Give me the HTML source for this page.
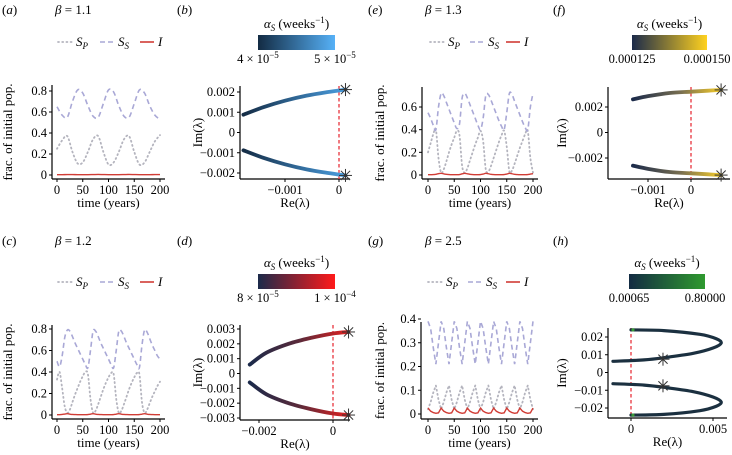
<!DOCTYPE html>
<html><head><meta charset="utf-8">
<style>
html,body{margin:0;padding:0;background:#fff;}
svg{display:block;font-family:"Liberation Serif",serif;}
</style></head>
<body>
<svg id="fig" width="732" height="455" viewBox="0 0 732 455" xmlns="http://www.w3.org/2000/svg">
<defs>
<linearGradient id="cbB" x1="0" x2="1" y1="0" y2="0"><stop offset="0" stop-color="#132b43"/><stop offset="1" stop-color="#56b1f7"/></linearGradient>
<linearGradient id="cbD" x1="0" x2="1" y1="0" y2="0"><stop offset="0" stop-color="#1b2a4a"/><stop offset="1" stop-color="#ff1a1a"/></linearGradient>
<linearGradient id="cbF" x1="0" x2="1" y1="0" y2="0"><stop offset="0" stop-color="#1b2a4a"/><stop offset="1" stop-color="#ffd21f"/></linearGradient>
<linearGradient id="cbH" x1="0" x2="1" y1="0" y2="0"><stop offset="0" stop-color="#132b43"/><stop offset="1" stop-color="#2f9a2f"/></linearGradient>
</defs>
</svg>
<script>
// ---- time-series data (5 or 10 year samples) ----
const tA = [0,10,20,30,40,50,60,70,80,90,100,110,120,130,140,150,160,170,180,190,200];
const ssA = [0.65,0.57,0.55,0.70,0.81,0.78,0.66,0.56,0.55,0.68,0.81,0.79,0.66,0.56,0.55,0.68,0.81,0.78,0.66,0.57,0.53];
const spA = [0.25,0.33,0.37,0.22,0.11,0.12,0.22,0.34,0.37,0.22,0.10,0.12,0.22,0.34,0.37,0.22,0.10,0.12,0.22,0.32,0.38];
const iA = [0.003,0.003,0.004,0.004,0.003,0.003,0.003,0.004,0.005,0.004,0.003,0.003,0.003,0.004,0.005,0.004,0.003,0.003,0.003,0.004,0.004];
const t5 = [0,5,10,15,20,25,30,35,40,45,50,55,60,65,70,75,80,85,90,95,100,105,110,115,120,125,130,135,140,145,150,155,160,165,170,175,180,185,190,195,200];
const ssC = [0.50,0.45,0.55,0.72,0.79,0.78,0.73,0.67,0.62,0.57,0.52,0.47,0.44,0.60,0.78,0.78,0.73,0.67,0.62,0.57,0.52,0.47,0.44,0.60,0.78,0.78,0.73,0.67,0.62,0.57,0.52,0.47,0.44,0.65,0.79,0.77,0.71,0.65,0.60,0.55,0.52];
const spC = [0.33,0.40,0.25,0.08,0.02,0.05,0.12,0.19,0.25,0.31,0.36,0.40,0.38,0.15,0.02,0.04,0.10,0.17,0.24,0.30,0.35,0.39,0.38,0.15,0.02,0.04,0.10,0.17,0.24,0.30,0.35,0.39,0.38,0.12,0.02,0.05,0.11,0.17,0.22,0.27,0.31];
const iC = [0.003,0.003,0.005,0.009,0.012,0.008,0.005,0.004,0.003,0.003,0.003,0.003,0.004,0.008,0.012,0.008,0.005,0.004,0.003,0.003,0.003,0.003,0.004,0.008,0.012,0.008,0.005,0.004,0.003,0.003,0.003,0.003,0.004,0.008,0.012,0.008,0.005,0.004,0.003,0.003,0.003];
const ssE = [0.55,0.50,0.44,0.40,0.60,0.72,0.70,0.64,0.58,0.52,0.46,0.41,0.45,0.68,0.72,0.68,0.62,0.56,0.50,0.44,0.40,0.50,0.70,0.71,0.66,0.60,0.54,0.48,0.43,0.40,0.55,0.72,0.71,0.65,0.59,0.53,0.47,0.42,0.40,0.60,0.72];
const spE = [0.20,0.28,0.36,0.40,0.15,0.02,0.05,0.12,0.20,0.27,0.33,0.39,0.35,0.08,0.02,0.06,0.13,0.20,0.27,0.33,0.39,0.30,0.05,0.03,0.08,0.15,0.22,0.29,0.35,0.39,0.25,0.03,0.04,0.10,0.17,0.24,0.30,0.36,0.39,0.15,0.02];
const iE = [0.003,0.003,0.004,0.006,0.012,0.015,0.010,0.006,0.004,0.003,0.003,0.003,0.004,0.010,0.015,0.010,0.006,0.004,0.003,0.003,0.004,0.008,0.015,0.011,0.006,0.004,0.003,0.003,0.003,0.004,0.008,0.015,0.011,0.006,0.004,0.003,0.003,0.003,0.004,0.008,0.012];
const ssG = [0.39,0.36,0.28,0.21,0.30,0.39,0.36,0.28,0.21,0.30,0.39,0.36,0.28,0.21,0.30,0.39,0.36,0.28,0.21,0.30,0.39,0.36,0.28,0.21,0.30,0.39,0.36,0.28,0.21,0.30,0.39,0.36,0.28,0.21,0.30,0.39,0.36,0.28,0.21,0.30,0.39];
const spG = [0.02,0.05,0.09,0.12,0.06,0.02,0.05,0.09,0.12,0.06,0.02,0.05,0.09,0.12,0.06,0.02,0.05,0.09,0.12,0.06,0.02,0.05,0.09,0.12,0.06,0.02,0.05,0.09,0.12,0.06,0.02,0.05,0.09,0.12,0.06,0.02,0.05,0.09,0.12,0.06,0.02];
const iG = [0.025,0.012,0.006,0.003,0.005,0.025,0.012,0.006,0.003,0.005,0.025,0.012,0.006,0.003,0.005,0.025,0.012,0.006,0.003,0.005,0.025,0.012,0.006,0.003,0.005,0.025,0.012,0.006,0.003,0.005,0.025,0.012,0.006,0.003,0.005,0.025,0.012,0.006,0.003,0.005,0.025];
const timeTicks = [0,50,100,150,200];
const yTicksA = [0,0.2,0.4,0.6,0.8];
const yTicksE = [0,0.2,0.4,0.6];
const yTicksG = [0,0.1,0.2,0.3,0.4];
// ---- eigenvalue branches (upper branch; lower is mirror) ----
const reB = [-0.00177,-0.0014,-0.001,-0.0006,-0.0002,0.00012];
const imB = [0.00088,0.00125,0.00157,0.00182,0.00200,0.00212];
const reD = [-0.00225,-0.0018,-0.0012,-0.0006,0,0.00042];
const imD = [0.0006,0.0014,0.0020,0.0024,0.0027,0.0028];
const reF = [-0.00135,-0.001,-0.0005,0,0.0004,0.0007];
const imF = [0.0026,0.00285,0.0031,0.0032,0.00328,0.00334];
const reH = [0,0.002,0.0042,0.0052,0.0055,0.0050,0.0038,0.0022,0.0008,-0.0011];
const imH = [0.024,0.0236,0.0215,0.019,0.0166,0.0138,0.0108,0.0086,0.0071,0.0063];
const starB = [0.00012,0.00212], starD=[0.00042,0.0028], starF=[0.0007,0.00334], starH=[0.00195,0.0075];

const svg = document.getElementById('fig');
const NS = 'http://www.w3.org/2000/svg';
function mk(tag, attrs, parent){const e=document.createElementNS(NS,tag);for(const k in attrs)e.setAttribute(k,attrs[k]);(parent||svg).appendChild(e);return e;}
function txt(x,y,s,attrs,parent){const e=mk('text',Object.assign({x:x,y:y},attrs||{}),parent);e.innerHTML=s;return e;}
function lin(d0,d1,r0,r1){return v=>r0+(v-d0)*(r1-r0)/(d1-d0);}
function smooth(pts){let d='M'+pts[0][0].toFixed(2)+','+pts[0][1].toFixed(2);
 for(let i=0;i<pts.length-1;i++){const p0=pts[Math.max(0,i-1)],p1=pts[i],p2=pts[i+1],p3=pts[Math.min(pts.length-1,i+2)];
 const c1=[p1[0]+(p2[0]-p0[0])/6,p1[1]+(p2[1]-p0[1])/6],c2=[p2[0]-(p3[0]-p1[0])/6,p2[1]-(p3[1]-p1[1])/6];
 d+=' C'+c1.map(v=>v.toFixed(2))+' '+c2.map(v=>v.toFixed(2))+' '+p2[0].toFixed(2)+','+p2[1].toFixed(2);}return d;}
function fmt(v){if(v===0)return '0';let s=String(v);return v<0?'\u2212'+s.slice(1):s;}

function axes(g,c){
 mk('line',{x1:c.ax,y1:c.top,x2:c.ax,y2:c.bot,stroke:'#000','stroke-width':1.2},g);
 mk('line',{x1:c.ax,y1:c.bot,x2:c.right,y2:c.bot,stroke:'#000','stroke-width':1.2},g);
 c.yt.forEach(v=>{const y=c.ys(v);mk('line',{x1:c.ax-3,y1:y,x2:c.ax,y2:y,stroke:'#000'},g);
  const t=txt(c.ax-5,y+4,fmt(v),{'text-anchor':'end','font-size':12.5},g);
  
  });
 c.xt.forEach(v=>{const x=c.xs(v);mk('line',{x1:x,y1:c.bot,x2:x,y2:c.bot+3,stroke:'#000'},g);
  const t=txt(x,c.bot+15,fmt(v),{'text-anchor':'middle','font-size':12.5},g);
  
  });
 const xt=txt((c.ax+c.right)/2,c.bot+28,c.xlab,{'text-anchor':'middle','font-size':13},g);
 
 
 const cy=(c.top+c.bot)/2;
 const yt=txt(c.ylx,cy,c.ylab,{'text-anchor':'middle','font-size':13,transform:'rotate(-90 '+c.ylx+' '+cy+')'},g);
 
 
}
function header(g,lx,ly,lab,bx,beta){
 const a=txt(lx,ly,'(<tspan font-style="italic">'+lab+'</tspan>)',{'font-size':13},g);
 
 
 if(beta){const b=txt(bx,ly,'<tspan font-style="italic">β</tspan> = '+beta,{'font-size':13},g);
 
 }
}
function tsPanel(c){
 const g=mk('g',{});
 
 
 header(g,c.lx,c.ly,c.lab,c.bx,c.beta);
 const L=c.leg, y=c.legY;
 const items=[['sp','P','#b4b4be','1,3.2'],['ss','S','#a9a8d6','5,3'],['i','','#d03c35','']];
 items.forEach((it,k)=>{const lg=mk('g',{},g);
  
  
  const x=L[k];
  const a={x1:x,y1:y,x2:x+14,y2:y,stroke:it[2],'stroke-width':it[0]==='sp'?1.8:1.6};
  if(it[3])a['stroke-dasharray']=it[3];
  if(it[0]==='sp')a['stroke-linecap']='round';
  mk('line',a,lg);
  const s=it[0]==='i'?'<tspan font-style="italic">I</tspan>':'<tspan font-style="italic">S</tspan><tspan font-style="italic" font-size="9" dy="3">'+it[1]+'</tspan>';
  txt(x+18,y+4,s,{'font-size':13},lg);});
 axes(g,c);
 const ser=[[c.sp,'#b4b4be','1,3.2',1.8,'sp-line'],[c.ss,'#a9a8d6','5,3.5',1.6,'ss-line'],[c.i,'#d03c35','',1.4,'i-line']];
 ser.forEach(s=>{const pts=c.t.map((t,j)=>[c.xs(t),c.ys(s[0][j])]);
  const a={d:c.linear?('M'+pts.map(p=>p[0].toFixed(2)+','+p[1].toFixed(2)).join(' L')):smooth(pts),fill:'none',stroke:s[1],'stroke-width':s[3]};
  if(s[2])a['stroke-dasharray']=s[2];
  if(s[4]==='sp-line')a['stroke-linecap']='round';
  const p=mk('path',a,g);
  
  });
}
function star(g,x,y){const r=6.5;for(let k=0;k<4;k++){const a=k*Math.PI/4;
 mk('line',{x1:x-r*Math.cos(a),y1:y-r*Math.sin(a),x2:x+r*Math.cos(a),y2:y+r*Math.sin(a),stroke:'#333','stroke-width':1},g);}}
function eigPanel(c){
 const g=mk('g',{});
 
 
 header(g,c.lx,c.ly,c.lab);
 const cb=mk('g',{},g);
 
 
 txt((c.cb[0]+c.cb[1])/2,c.cbY-7,'<tspan font-style="italic">α</tspan><tspan font-style="italic" font-size="9" dy="3">S</tspan><tspan dy="-3"> (weeks</tspan><tspan font-size="9" dy="-5">−1</tspan><tspan dy="5">)</tspan>',{'text-anchor':'middle','font-size':13},cb);
 mk('rect',{x:c.cb[0],y:c.cbY,width:c.cb[1]-c.cb[0],height:15,fill:'url(#'+c.grad+')'},cb);
 txt(c.cb[0],c.cbY+28,c.cbl[0],{'text-anchor':'middle','font-size':12.5},cb);
 txt(c.cb[1],c.cbY+28,c.cbl[1],{'text-anchor':'middle','font-size':12.5},cb);
 axes(g,c);
 const zx=c.xs(0);
 const z=mk('line',{x1:zx,y1:c.top,x2:zx,y2:c.bot,stroke:'#e8323c','stroke-width':1.3,'stroke-dasharray':'3.5,2.5'},g);
 
 
 const xmin=Math.min(...c.re.map(c.xs)),xmax=Math.max(...c.re.map(c.xs));
 const gid='gr'+c.lab;
 const lg=mk('linearGradient',{id:gid,gradientUnits:'userSpaceOnUse',x1:xmin,x2:xmax,y1:0,y2:0},svg.querySelector('defs'));
 c.stops.forEach(s=>mk('stop',{offset:s[0],'stop-color':s[1]},lg));
 [1,-1].forEach(sg=>{const pts=c.re.map((r,j)=>[c.xs(r),c.ys(sg*c.im[j])]);
  const p=mk('path',{d:smooth(pts),fill:'none',stroke:'url(#'+gid+')','stroke-width':c.sw,'stroke-linecap':'round'},g);
  
  
  if(c.greenStart)mk('circle',{cx:pts[0][0]+2,cy:pts[0][1],r:1.6,fill:'#3a9a3a'},g);
  const st=mk('g',{},g);
  
  
  star(st,c.xs(c.star[0]),c.ys(sg*c.star[1]));});
}

tsPanel({name:'panel-a',lab:'a',lx:2,ly:14,bx:55,beta:'1.1',leg:[58,100,140],legY:42,
 ax:52,top:85,bot:179,right:165,xs:lin(0,200,57,160),ys:lin(0,0.8,175,91),xt:timeTicks,yt:yTicksA,
 xlab:'time (years)',ylab:'frac. of initial pop.',ylx:12,t:tA,ss:ssA,sp:spA,i:iA});
tsPanel({name:'panel-c',lab:'c',lx:2,ly:245,bx:55,beta:'1.2',leg:[58,100,140],legY:282,
 ax:52,top:325,bot:419,right:165,xs:lin(0,200,57,160),ys:lin(0,0.8,415,329),xt:timeTicks,yt:yTicksA,
 xlab:'time (years)',ylab:'frac. of initial pop.',ylx:12,t:t5,ss:ssC,sp:spC,i:iC});
tsPanel({name:'panel-e',lab:'e',lx:368,ly:14,bx:425,beta:'1.3',leg:[430,470,506],legY:42,
 ax:422,top:87,bot:179,right:538,xs:lin(0,200,428,533),ys:lin(0,0.6,175,107),xt:timeTicks,yt:yTicksE,
 xlab:'time (years)',ylab:'frac. of initial pop.',ylx:384,t:t5,ss:ssE,sp:spE,i:iE});
tsPanel({name:'panel-g',lab:'g',lx:368,ly:245,bx:425,beta:'2.5',leg:[428,468,506],legY:282,linear:true,
 ax:421,top:322,bot:419,right:538,xs:lin(0,200,428,533),ys:lin(0,0.4,414,319),xt:timeTicks,yt:yTicksG,
 xlab:'time (years)',ylab:'frac. of initial pop.',ylx:384,t:t5,ss:ssG,sp:spG,i:iG});
eigPanel({name:'panel-b',lab:'b',lx:177,ly:14,cb:[258,335],cbY:35,grad:'cbB',cbl:['4 × 10<tspan font-size="9" dy="-5">−5</tspan>','5 × 10<tspan font-size="9" dy="-5">−5</tspan>'],
 ax:240,top:86,bot:179,right:350,xs:lin(-0.001,0,285,339),ys:lin(-0.002,0.002,173,92),xt:[-0.001,0],yt:[-0.002,-0.001,0,0.001,0.002],
 xlab:'Re(λ)',ylab:'Im(λ)',ylx:202,re:reB,im:imB,star:starB,sw:3.8,stops:[[0,'#142c45'],[1,'#4a9ee0']]});
eigPanel({name:'panel-d',lab:'d',lx:177,ly:245,cb:[258,335],cbY:274,grad:'cbD',cbl:['8 × 10<tspan font-size="9" dy="-5">−5</tspan>','1 × 10<tspan font-size="9" dy="-5">−4</tspan>'],
 ax:240,top:325,bot:420,right:350,xs:lin(-0.002,0,259,333),ys:lin(-0.003,0.003,418,329),xt:[-0.002,0],yt:[-0.003,-0.002,-0.001,0,0.001,0.002,0.003],
 xlab:'Re(λ)',ylab:'Im(λ)',ylx:202,re:reD,im:imD,star:starD,sw:3.8,stops:[[0,'#1b2a4a'],[0.5,'#5a2a3a'],[1,'#e02020']]});
eigPanel({name:'panel-f',lab:'f',lx:553,ly:14,cb:[632,707],cbY:35,grad:'cbF',cbl:['0.000125','0.000150'],
 ax:608,top:87,bot:179,right:730,xs:lin(-0.001,0,648,691),ys:lin(-0.002,0.002,158,107),xt:[-0.001,0],yt:[-0.002,0,0.002],
 xlab:'Re(λ)',ylab:'Im(λ)',ylx:566,re:reF,im:imF,star:starF,sw:3.8,stops:[[0,'#1b2a4a'],[0.55,'#7a7050'],[1,'#f5cc2a']]});
eigPanel({name:'panel-h',lab:'h',lx:553,ly:245,cb:[629,705],cbY:274,grad:'cbH',cbl:['0.00065','0.80000'],
 ax:608,top:328,bot:418,right:727,xs:lin(0,0.005,631,713),ys:lin(-0.02,0.02,408,337),xt:[0,0.005],yt:[-0.02,-0.01,0,0.01,0.02],
 xlab:'Re(λ)',ylab:'Im(λ)',ylx:566,re:reH,im:imH,star:starH,sw:3.2,greenStart:true,stops:[[0,'#1b3040'],[1,'#1b3040']]});
</script>
</body></html>
